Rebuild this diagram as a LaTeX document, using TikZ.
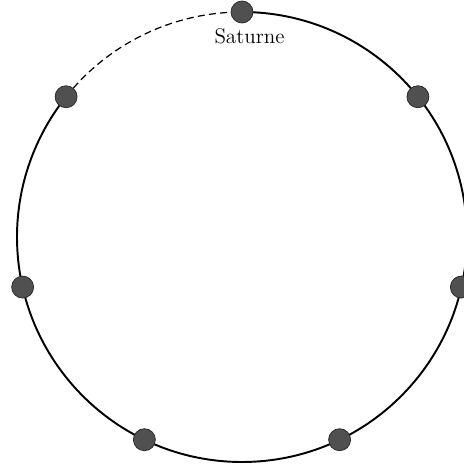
\documentclass[tikz,border=0pt]{standalone}
\usepackage{tikz}
\usetikzlibrary{positioning}
\definecolor{planetgray}{RGB}{80,80,80}

\begin{document}
\begin{tikzpicture}[
    planet/.style={circle, draw=black!85, fill=planetgray, line width=0.4pt, minimum size=0.44cm, inner sep=0pt},
    orbit/.style={line width=1.1pt},
    gap/.style={line width=0.7pt, dash pattern=on 4pt off 2.4pt},
    planetname/.style={font=\large, inner sep=2pt}
  ]
    \useasboundingbox (-4.84,-4.58) rectangle (4.44,4.74);
    \coordinate (top) at (90:4.5cm);
    \coordinate (last) at (141.43:4.5cm);
    % orbit, open stretch dashed
    \draw[orbit] (top) arc[start angle=90, end angle=-218.57, radius=4.5cm];
    \draw[gap] (last) arc[start angle=141.43, end angle=90, radius=4.5cm];
    \node[planet] (saturne) at (top) {};
    \node[planet] (pos1) at (38.57:4.5cm) {};
    \node[planet] (pos2) at (-12.86:4.5cm) {};
    \node[planet] (pos3) at (-64.29:4.5cm) {};
    \node[planet] (pos4) at (-115.71:4.5cm) {};
    \node[planet] (pos5) at (-167.14:4.5cm) {};
    \node[planet] (pos6) at (last) {};
    \node[planetname, below=1pt of saturne, xshift=0.15cm] (satlabel) {Saturne};
  \end{tikzpicture}
\end{document}
